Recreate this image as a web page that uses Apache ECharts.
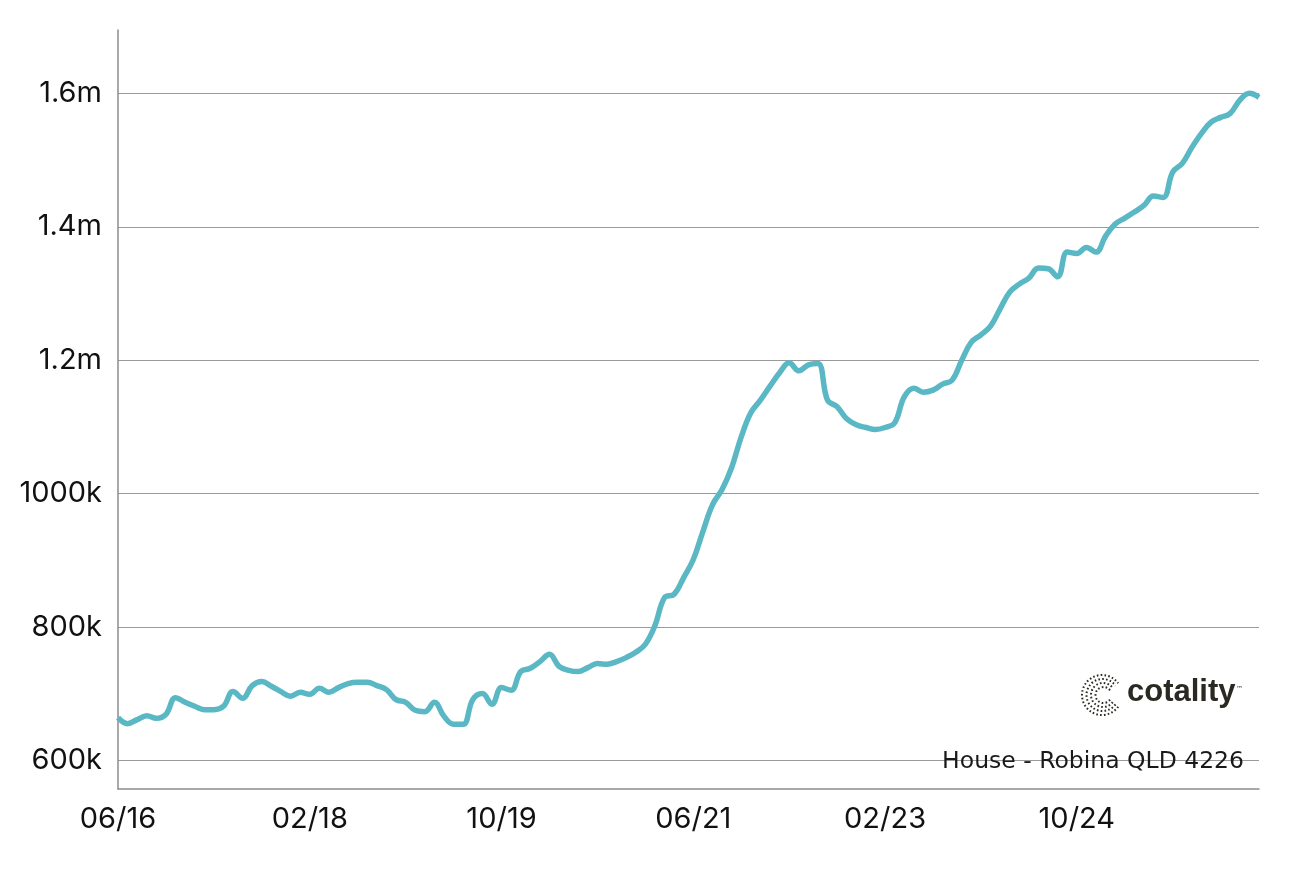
<!DOCTYPE html>
<html>
<head>
<meta charset="utf-8">
<script src="https://cdn.jsdelivr.net/npm/echarts@6/dist/echarts.min.js"></script>
<style>
  html, body { margin: 0; padding: 0; background: #ffffff; }
  #chart { width: 1290px; height: 871px; }
</style>
</head>
<body>
<div id="chart"></div>
<script>
// Monthly categories, 06/16 .. 05/26
const startYear = 2016, startMonth = 6, monthCount = 120;
const categories = [];
for (let i = 0; i < monthCount; i++) {
  const m = (startMonth - 1 + i) % 12 + 1;
  const y = startYear + Math.floor((startMonth - 1 + i) / 12);
  categories.push(String(m).padStart(2, '0') + '/' + String(y % 100).padStart(2, '0'));
}

// Median house value (in $k)
const values = [
  664, 655, 661, 667, 663, 669, 694, 687, 681, 676,
  676, 681, 703, 693, 712, 718, 711, 703, 696, 702,
  699, 708, 702, 709, 715, 717, 717, 712, 706, 691,
  687, 675, 673, 687, 666, 654, 654, 691, 700, 684,
  709, 705, 733, 738, 748, 759, 741, 735, 733, 739,
  745, 744, 748, 754, 762, 774, 802, 844, 849, 874,
  901, 943, 983, 1006, 1039, 1085, 1121, 1140, 1161, 1181,
  1196, 1184, 1193, 1195, 1140, 1130, 1112, 1103, 1099, 1096,
  1099, 1106, 1145, 1158, 1152, 1155, 1164, 1170, 1200, 1227,
  1238, 1251, 1277, 1302, 1314, 1323, 1338, 1337, 1325, 1362,
  1360, 1369, 1362, 1386, 1404, 1413, 1422, 1432, 1446, 1444,
  1482, 1495, 1519, 1540, 1557, 1564, 1570, 1590, 1600, 1594
];

const yTickValues = [600, 800, 1000, 1200, 1400, 1600];
const yTickLabels = ['600k', '800k', '1000k', '1.2m', '1.4m', '1.6m'];
const sourceLabel = 'House - Robina QLD 4226';
const brandLabel = 'cotality';

const chart = echarts.init(document.getElementById('chart'), null, { renderer: 'canvas' });

// dotted "C" logo mark: concentric dashed arcs open to the right
const logoArcs = [20, 16, 12, 8].map(function (r, k) {
  return {
    type: 'arc',
    shape: { cx: 1102 + k * 0.5, cy: 695, r: r, startAngle: Math.PI * 0.2, endAngle: Math.PI * 1.8, clockwise: true },
    style: { stroke: '#2b2a22', lineWidth: 2, lineDash: [1.6, 2.2], fill: null }
  };
});

const option = {
  backgroundColor: '#ffffff',
  animation: false,
  grid: { left: 118, right: 31, top: 30, bottom: 82, containLabel: false },
  xAxis: {
    type: 'category',
    data: categories,
    boundaryGap: false,
    axisLine: { show: true, lineStyle: { color: '#8c8c8c', width: 1.5 } },
    axisTick: { show: false },
    axisLabel: {
      interval: 19,
      color: '#111111',
      fontFamily: 'Inter',
      fontSize: 29,
      margin: 16
    },
    splitLine: { show: false }
  },
  yAxis: {
    type: 'value',
    min: 557,
    max: 1695,
    axisLine: { show: true, lineStyle: { color: '#8c8c8c', width: 1.5 } },
    axisTick: { show: false, customValues: yTickValues },
    axisLabel: {
      customValues: yTickValues,
      color: '#111111',
      fontFamily: 'Inter',
      fontSize: 29,
      margin: 16,
      formatter: function (v) {
        const idx = yTickValues.indexOf(v);
        return idx >= 0 ? yTickLabels[idx] : '';
      }
    },
    splitLine: { show: true, lineStyle: { color: '#9a9a9a', width: 1.2 } }
  },
  title: [
    {
      text: sourceLabel,
      right: 41,
      top: 745,
      textStyle: { fontFamily: 'DejaVu Sans', fontSize: 23.5, fontWeight: 'normal', color: '#1a1a1a' }
    },
    {
      text: brandLabel,
      left: 1122,
      top: 672,
      textStyle: { fontFamily: 'Liberation Sans', fontSize: 31, fontWeight: 'bold', color: '#2b2a22' }
    },
    {
      text: '™',
      left: 1231,
      top: 681,
      textStyle: { fontFamily: 'DejaVu Sans', fontSize: 7, fontWeight: 'normal', color: '#2b2a22' }
    }
  ],
  graphic: logoArcs,
  series: [
    {
      type: 'line',
      data: values,
      smooth: 0.4,
      symbol: 'none',
      lineStyle: { color: '#5ab8c5', width: 5.5 },
      z: 5
    }
  ]
};

chart.setOption(option);
</script>
</body>
</html>
